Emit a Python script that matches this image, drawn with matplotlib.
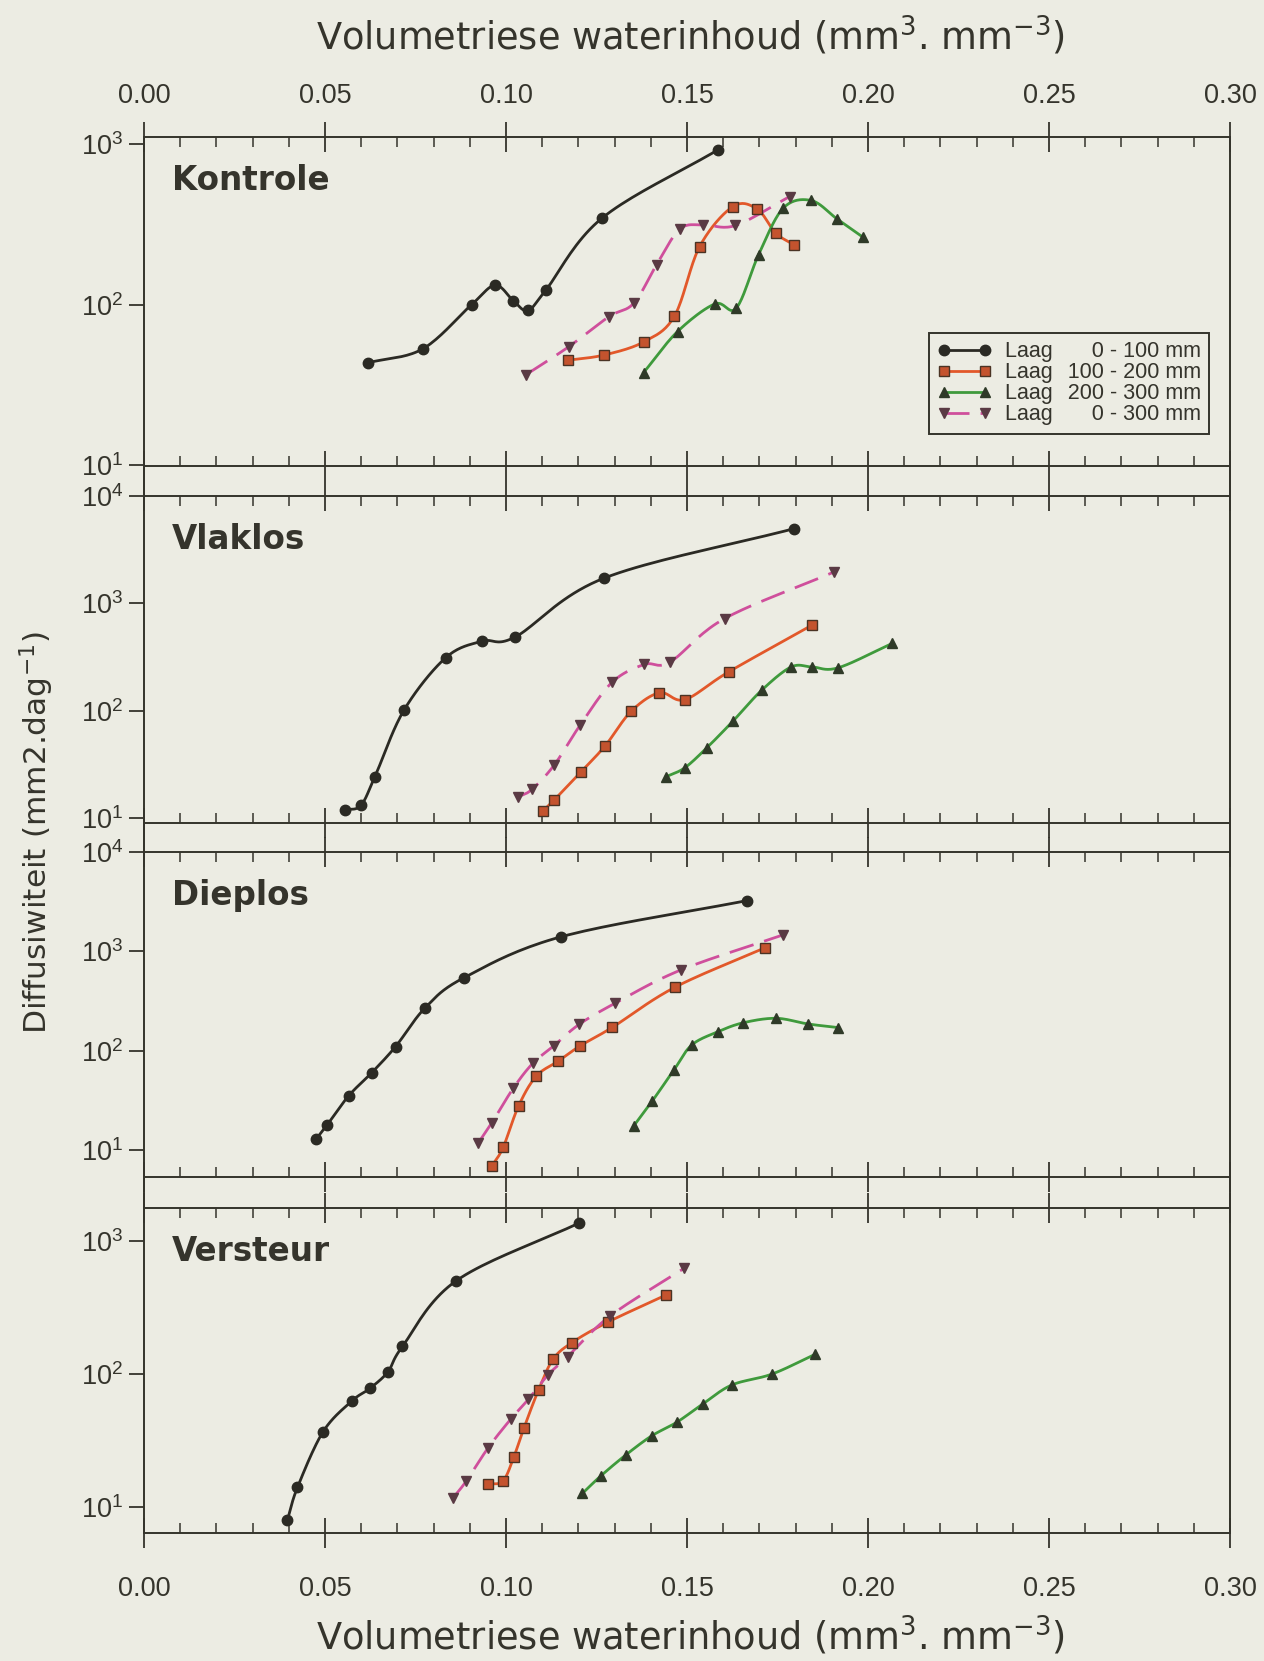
import numpy as np
import matplotlib
matplotlib.use("Agg")
import matplotlib.pyplot as plt
from matplotlib.lines import Line2D
from matplotlib.ticker import MultipleLocator, LogLocator, NullLocator, FormatStrFormatter

plt.rcParams['font.family'] = ['Liberation Sans', 'DejaVu Sans']
plt.rcParams['mathtext.fontset'] = 'custom'
plt.rcParams['mathtext.rm'] = 'Liberation Sans'
plt.rcParams['mathtext.it'] = 'Liberation Sans:italic'
plt.rcParams['mathtext.bf'] = 'Liberation Sans:bold'

# volumetric water content (mm3/mm3) and diffusivity (mm2/day) per treatment and layer
# Kontrole
kon_x_0_100 = [0.062, 0.077, 0.0905, 0.097, 0.102, 0.106, 0.111, 0.1265, 0.1585]
kon_d_0_100 = [43.5, 53, 100, 132, 106, 92, 123, 345, 918]
kon_x_100_200 = [0.117, 0.127, 0.138, 0.1465, 0.1535, 0.1627, 0.1694, 0.1745, 0.1795]
kon_d_100_200 = [45, 48.5, 58.5, 84.5, 230, 408, 393, 279, 236]
kon_x_200_300 = [0.138, 0.1474, 0.1577, 0.1636, 0.1698, 0.1766, 0.1843, 0.1915, 0.1987]
kon_d_200_300 = [37.7, 68, 101, 95, 205, 399, 445, 341, 262]
kon_x_0_300 = [0.1056, 0.1173, 0.1284, 0.1353, 0.1416, 0.148, 0.1545, 0.1634, 0.1784]
kon_d_0_300 = [36.7, 54.6, 84, 102, 177, 295, 314, 311, 471]

# Vlaklos
vla_x_0_100 = [0.0556, 0.0599, 0.0638, 0.0718, 0.0834, 0.0934, 0.1026, 0.1272, 0.1796]
vla_d_0_100 = [11.9, 13.1, 24.3, 101, 313, 445, 488, 1726, 4980]
vla_x_100_200 = [0.1103, 0.1133, 0.1206, 0.1274, 0.1346, 0.1424, 0.1494, 0.1615, 0.1845]
vla_d_100_200 = [11.7, 14.7, 26.7, 47.1, 99, 147, 127, 230, 627]
vla_x_200_300 = [0.1443, 0.1494, 0.1555, 0.1627, 0.1707, 0.1788, 0.1845, 0.1917, 0.2067]
vla_d_200_300 = [24.3, 29.4, 45.2, 80, 156, 256, 256, 251, 424]
vla_x_0_300 = [0.1032, 0.1072, 0.1133, 0.1205, 0.1293, 0.1382, 0.1453, 0.1604, 0.1906]
vla_d_0_300 = [15.6, 18.5, 31.1, 73.5, 184, 270, 284, 723, 1963]

# Dieplos
die_x_0_100 = [0.0475, 0.0506, 0.0565, 0.0629, 0.0695, 0.0777, 0.0884, 0.1153, 0.1665]
die_d_0_100 = [12.8, 17.9, 35, 60, 110, 271, 543, 1406, 3245]
die_x_100_200 = [0.0961, 0.0992, 0.1035, 0.1084, 0.1145, 0.1205, 0.1294, 0.1466, 0.1716]
die_d_100_200 = [6.9, 10.6, 27.9, 55.6, 78.7, 112, 172, 434, 1089]
die_x_200_300 = [0.1353, 0.1404, 0.1464, 0.1513, 0.1585, 0.1655, 0.1746, 0.1834, 0.1917]
die_d_200_300 = [17.5, 31.1, 64, 114, 155, 191, 212, 186, 171]
die_x_0_300 = [0.0923, 0.0961, 0.102, 0.1074, 0.1132, 0.1202, 0.1301, 0.1483, 0.1764]
die_d_0_300 = [11.7, 18.8, 41.8, 74.6, 112, 184, 300, 650, 1462]

# Versteur
ver_x_0_100 = [0.0396, 0.0424, 0.0495, 0.0575, 0.0624, 0.0674, 0.0714, 0.0863, 0.1201]
ver_d_0_100 = [8.0, 14.1, 37, 63, 78, 104, 161, 502, 1355]
ver_x_100_200 = [0.0951, 0.0992, 0.1022, 0.105, 0.109, 0.113, 0.1182, 0.1281, 0.1443]
ver_d_100_200 = [14.9, 15.8, 24, 39.6, 76, 129, 172, 245, 393]
ver_x_200_300 = [0.1211, 0.1262, 0.1331, 0.1402, 0.1472, 0.1544, 0.1624, 0.1735, 0.1855]
ver_d_200_300 = [12.7, 17.2, 24.7, 34.3, 43.5, 59.7, 82.8, 100, 141]
ver_x_0_300 = [0.0853, 0.089, 0.0951, 0.1013, 0.1062, 0.1116, 0.117, 0.1288, 0.1492]
ver_d_0_300 = [11.7, 15.7, 28, 45.8, 64.7, 98.4, 135, 273, 622]

panel_names = ["Kontrole", "Vlaklos", "Dieplos", "Versteur"]
layer_labels = ["Laag\u2002\u2009\u2007\u20070 - 100 mm",
                "Laag\u2002\u2009100 - 200 mm",
                "Laag\u2002\u2009200 - 300 mm",
                "Laag\u2002\u2009\u2007\u20070 - 300 mm"]

panels = [
    [(kon_x_0_100, kon_d_0_100), (kon_x_100_200, kon_d_100_200),
     (kon_x_200_300, kon_d_200_300), (kon_x_0_300, kon_d_0_300)],
    [(vla_x_0_100, vla_d_0_100), (vla_x_100_200, vla_d_100_200),
     (vla_x_200_300, vla_d_200_300), (vla_x_0_300, vla_d_0_300)],
    [(die_x_0_100, die_d_0_100), (die_x_100_200, die_d_100_200),
     (die_x_200_300, die_d_200_300), (die_x_0_300, die_d_0_300)],
    [(ver_x_0_100, ver_d_0_100), (ver_x_100_200, ver_d_100_200),
     (ver_x_200_300, ver_d_200_300), (ver_x_0_300, ver_d_0_300)],
]

bg = '#ecece3'
ink = '#35342c'

# line colour, marker, marker face, marker edge, linestyle
styles = [
    dict(color='#2b2a24', marker='o', mfc='#2b2a24', mec='#2b2a24', ms=7.5, ls='-'),
    dict(color='#e2582a', marker='s', mfc='#c4532e', mec='#4a3324', ms=6.5, ls='-'),
    dict(color='#3f9a3c', marker='^', mfc='#2f3a28', mec='#2f3a28', ms=7.5, ls='-'),
    dict(color='#cf4f9c', marker='v', mfc='#5a3a44', mec='#5a3a44', ms=7.5, ls=(0, (9, 4))),
]

# axes boxes in figure fractions, y limits
boxes = [
    (0.1139, 0.7197, 0.8592, 0.1978),
    (0.1139, 0.5045, 0.8592, 0.1969),
    (0.1139, 0.2914, 0.8592, 0.1957),
    (0.1139, 0.0771, 0.8592, 0.1957),
]
ylims = [(9.95, 1105), (8.98, 10040), (5.35, 10040), (6.42, 1766)]


def smooth(xs, ys, n=20):
    # Catmull-Rom curve through the points in (x, log y)
    p = np.column_stack([xs, np.log10(ys)])
    p = np.vstack([2 * p[0] - p[1], p, 2 * p[-1] - p[-2]])
    t = np.linspace(0, 1, n, endpoint=False)[:, None]
    seg = []
    for i in range(1, len(p) - 2):
        p0, p1, p2, p3 = p[i - 1], p[i], p[i + 1], p[i + 2]
        seg.append(0.5 * (2 * p1 + (-p0 + p2) * t
                          + (2 * p0 - 5 * p1 + 4 * p2 - p3) * t ** 2
                          + (-p0 + 3 * p1 - 3 * p2 + p3) * t ** 3))
    seg.append(p[-2][None, :])
    c = np.vstack(seg)
    return c[:, 0], 10 ** c[:, 1]


fig = plt.figure(figsize=(12.64, 16.61), dpi=100, facecolor=bg)

axes = []
for k, (box, ylim) in enumerate(zip(boxes, ylims)):
    ax = fig.add_axes(box, facecolor=bg)
    axes.append(ax)
    for (xs, ds), st in zip(panels[k], styles):
        sx, sy = smooth(xs, ds)
        ax.plot(sx, sy, color=st['color'], lw=2.0, ls=st['ls'], zorder=2)
        ax.plot(xs, ds, ls='none', marker=st['marker'], ms=st['ms'],
                mfc=st['mfc'], mec=st['mec'], mew=1.0, zorder=3)
    ax.set_yscale('log')
    ax.set_xlim(0, 0.30)
    ax.set_ylim(*ylim)
    ax.xaxis.set_major_locator(MultipleLocator(0.05))
    ax.xaxis.set_minor_locator(MultipleLocator(0.01))
    ax.xaxis.set_major_formatter(FormatStrFormatter('%.2f'))
    ax.yaxis.set_major_locator(LogLocator(base=10, numticks=10))
    ax.yaxis.set_minor_locator(NullLocator())
    ax.tick_params(axis='x', which='major', direction='inout', length=22, width=1.3,
                   top=True, bottom=True, labelbottom=False, labeltop=False,
                   colors=ink, labelsize=19.5)
    ax.tick_params(axis='x', which='minor', direction='in', length=7, width=1.1,
                   top=True, bottom=True, colors=ink)
    ax.tick_params(axis='y', which='major', direction='out', length=11, width=1.3,
                   left=True, right=False, colors=ink, labelsize=19.5, pad=4)
    for sp in ax.spines.values():
        sp.set_color(ink)
        sp.set_linewidth(1.4)
    ax.text(0.026, 0.867, panel_names[k], transform=ax.transAxes, fontsize=23.5,
            fontweight='bold', family='DejaVu Sans', color=ink, va='center', ha='left')

axes[0].tick_params(axis='x', which='major', labeltop=True, pad=9)
axes[-1].tick_params(axis='x', which='major', labelbottom=True, pad=20)

# spines running through the gaps between panels
for upper, lower in zip(boxes[:-1], boxes[1:]):
    y0 = lower[1] + lower[3]
    y1 = upper[1]
    for xf in (upper[0], upper[0] + upper[2]):
        fig.add_artist(Line2D([xf, xf], [y0, y1], transform=fig.transFigure,
                              color=ink, lw=1.4))

handles = [Line2D([], [], color=st['color'], lw=2.0, ls=st['ls'], marker=st['marker'],
                  ms=st['ms'], mfc=st['mfc'], mec=st['mec']) for st in styles]
leg = axes[0].legend(handles, layer_labels, loc='lower right',
                     bbox_to_anchor=(0.981, 0.096), numpoints=2, fontsize=15.5,
                     handlelength=2.5, labelspacing=0.0, borderpad=0.4,
                     handletextpad=0.6, fancybox=False, framealpha=1,
                     facecolor=bg, edgecolor=ink, borderaxespad=0)
leg.get_frame().set_linewidth(1.4)
for t in leg.get_texts():
    t.set_color(ink)

xlabel = 'Volumetriese waterinhoud (mm$^{3}$. mm$^{-3}$)'
for yf in (0.9777, 0.0145):
    fig.text(0.546, yf, xlabel, ha='center', va='center', fontsize=26.5,
             family='DejaVu Sans', math_fontfamily='dejavusans', color=ink)
fig.text(0.029, 0.499, 'Diffusiwiteit (mm2.dag$^{-1}$)', ha='center', va='center',
         rotation=90, fontsize=22.5, family='DejaVu Sans', math_fontfamily='dejavusans',
         color=ink)

fig.savefig('out.png', dpi=100, facecolor=bg)
